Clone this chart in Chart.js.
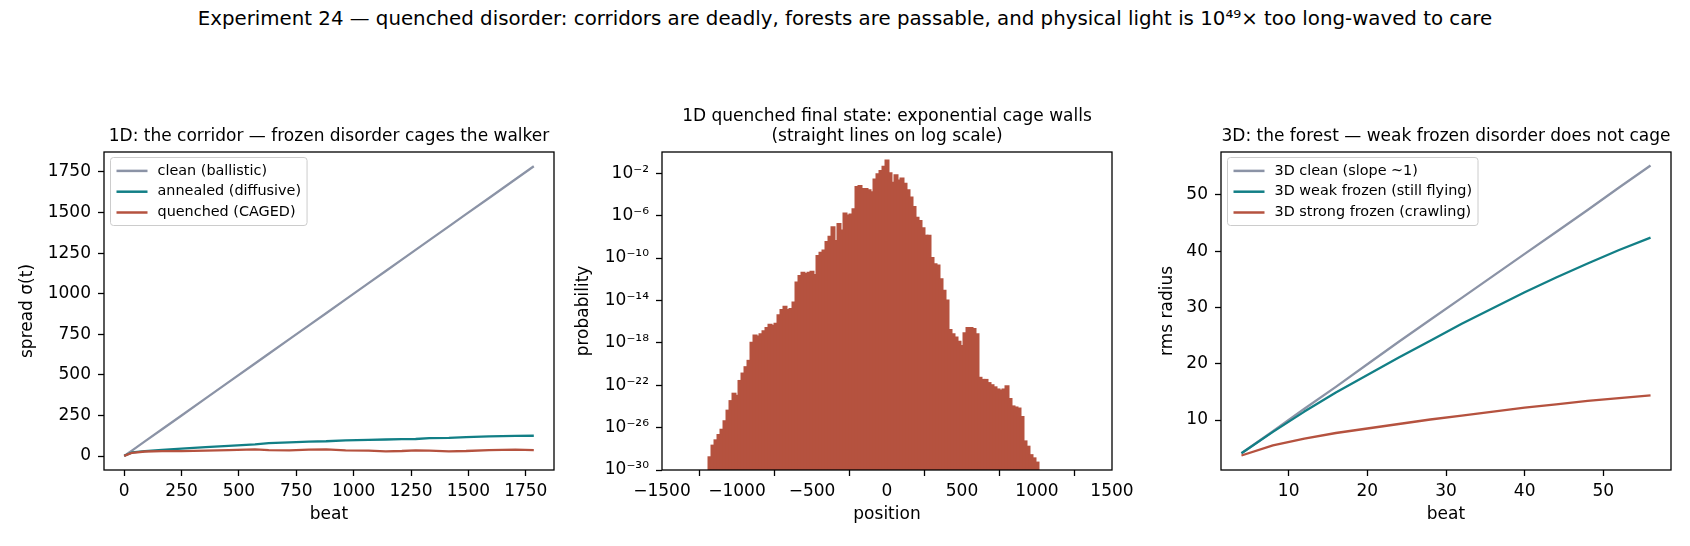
<!DOCTYPE html>
<html>
<head>
<meta charset="utf-8">
<script src="https://cdn.jsdelivr.net/npm/chart.js@4.4.1/dist/chart.umd.min.js"></script>
<style>
  html, body { margin: 0; padding: 0; background: #fff; }
  body { width: 1690px; height: 546px; position: relative; overflow: hidden; font-family: "DejaVu Sans", sans-serif; }
  #suptitle { position: absolute; left: 0; top: 7px; width: 1690px; text-align: center; font-size: 19.8px; line-height: 24px; color: #000; }
  .panel { position: absolute; top: 90px; width: 590px; height: 456px; }
</style>
</head>
<body>
<div id="suptitle">Experiment 24 — quenched disorder: corridors are deadly, forests are passable, and physical light is 10⁴⁹× too long-waved to care</div>
<div class="panel" style="left:4px"><canvas id="corridor" width="590" height="456"></canvas></div>
<div class="panel" style="left:562px"><canvas id="cage" width="590" height="456"></canvas></div>
<div class="panel" style="left:1121px"><canvas id="forest" width="590" height="456"></canvas></div>

<script>
const GRAY = '#8b93a6';
const TEAL = '#127f86';
const RUST = '#b5523f';
const FONT = '"DejaVu Sans", sans-serif';

// --- left panel: spread vs beat in 1D
const corridorBeats = [0, 35, 90, 165, 250, 355, 455, 570, 630, 720, 805, 880, 965, 1065, 1140, 1210, 1270, 1330, 1415, 1490, 1590, 1705, 1785];
const corridorClean = [0, 35, 90, 165, 250, 355, 455, 570, 630, 720, 805, 880, 965, 1065, 1140, 1210, 1270, 1330, 1415, 1490, 1590, 1705, 1785];
const corridorAnnealed = [2, 22, 30, 38, 46, 55, 63, 72, 80, 84, 89, 91, 96, 100, 102, 104, 105, 110, 112, 117, 121, 124, 125];
const corridorQuenched = [1, 20, 28, 30, 30, 33, 37, 41, 37, 35, 39, 41, 35, 33, 29, 31, 35, 33, 29, 31, 37, 39, 37];
const corridorTicksX = [0, 250, 500, 750, 1000, 1250, 1500, 1750];
const corridorTicksY = [0, 250, 500, 750, 1000, 1250, 1500, 1750];

// --- middle panel: final quenched distribution (log10 of probability per bin)
const histPositions = [
  -1180, -1160, -1140, -1120, -1100, -1080, -1060, -1040, -1020, -1000,
  -980, -960, -940, -920, -900, -880, -860, -840, -820, -800,
  -780, -760, -740, -720, -700, -680, -660, -640, -620, -600,
  -580, -560, -540, -520, -500, -480, -460, -440, -420, -400,
  -380, -360, -340, -320, -300, -280, -260, -240, -220, -200,
  -180, -160, -140, -120, -100, -80, -60, -40, -20, 0,
  20, 40, 60, 80, 100, 120, 140, 160, 180, 200,
  220, 240, 260, 280, 300, 320, 340, 360, 380, 400,
  420, 440, 460, 480, 500, 520, 540, 560, 580, 600,
  620, 640, 660, 680, 700, 720, 740, 760, 780, 800,
  820, 840, 860, 880, 900, 920, 940, 960, 980, 1000
];
const histLog10 = [
  -28.8, -27.7, -27.2, -26.7, -26.2, -25.4, -24.4, -23.5, -22.8, -23.0,
  -21.6, -20.9, -20.3, -19.7, -18.0, -17.3, -17.4, -17.2, -16.9, -16.6,
  -16.3, -16.4, -16.2, -15.4, -14.9, -14.6, -14.9, -14.8, -14.2, -12.3,
  -11.7, -11.4, -11.5, -11.4, -11.3, -11.6, -9.8, -9.5, -9.3, -8.5,
  -8.0, -7.1, -8.4, -6.8, -7.4, -5.8, -6.0, -5.9, -5.4, -3.3,
  -3.2, -3.5, -3.5, -3.6, -3.8, -2.6, -2.1, -1.8, -1.4, -0.8,
  -2.0, -2.9, -2.2, -2.7, -2.5, -3.0, -3.6, -4.3, -5.2, -6.2,
  -6.5, -7.2, -7.9, -7.9, -10.0, -10.6, -10.7, -12.0, -13.1, -14.0,
  -16.8, -17.2, -17.5, -17.9, -18.3, -17.1, -16.6, -16.6, -16.7, -17.2,
  -21.3, -21.5, -21.5, -21.8, -22.0, -22.2, -22.4, -22.5, -22.4, -22.1,
  -23.3, -24.0, -24.1, -24.2, -25.0, -27.3, -27.8, -28.6, -28.9, -29.3
];
const histTicksX = [-1500, -1000, -500, 0, 500, 1000, 1500];
const histTicksY = [1e-30, 1e-26, 1e-22, 1e-18, 1e-14, 1e-10, 1e-6, 1e-2];
const histTickLabels = ['10⁻³⁰', '10⁻²⁶', '10⁻²²', '10⁻¹⁸', '10⁻¹⁴', '10⁻¹⁰', '10⁻⁶', '10⁻²'];

// --- right panel: rms radius in 3D
const forestBeats = [4, 8, 12, 16, 20, 24, 28, 32, 36, 40, 44, 48, 52, 56];
const forestClean = [4.1, 8.0, 12.0, 15.9, 19.9, 23.9, 27.8, 31.7, 35.6, 39.5, 43.4, 47.3, 51.3, 55.2];
const forestWeak = [4.1, 7.9, 11.5, 14.9, 18.0, 21.1, 24.1, 27.1, 29.9, 32.7, 35.3, 37.8, 40.2, 42.4];
const forestStrong = [3.7, 5.5, 6.7, 7.7, 8.5, 9.3, 10.1, 10.8, 11.5, 12.2, 12.8, 13.4, 13.9, 14.4];
const forestTicksX = [10, 20, 30, 40, 50];
const forestTicksY = [10, 20, 30, 40, 50];

const pts = (xs, ys) => xs.map((x, i) => ({ x, y: ys[i] }));
const minusSign = (v) => (v < 0 ? '\u2212' + Math.abs(v) : String(v));

// box around the plot, like matplotlib spines
const frame = {
  id: 'frame',
  afterDraw(chart) {
    const { ctx, chartArea: a } = chart;
    ctx.save();
    ctx.strokeStyle = '#000';
    ctx.lineWidth = 1.3;
    ctx.strokeRect(a.left, a.top, a.right - a.left, a.bottom - a.top);
    ctx.restore();
  }
};

// axes title sitting just above the plot
const panelTitle = {
  id: 'panelTitle',
  afterDraw(chart, args, opts) {
    const lines = (opts && opts.lines) || [];
    const { ctx, chartArea: a } = chart;
    ctx.save();
    ctx.font = '17px ' + FONT;
    ctx.fillStyle = '#000';
    ctx.textAlign = 'center';
    ctx.textBaseline = 'alphabetic';
    const cx = (a.left + a.right) / 2;
    lines.forEach((t, i) => {
      ctx.fillText(t, cx, a.top - 11 - (lines.length - 1 - i) * 20);
    });
    ctx.restore();
  }
};

// legend drawn inside the upper-left corner
const boxLegend = {
  id: 'boxLegend',
  afterDatasetsDraw(chart, args, opts) {
    if (!opts || !opts.show) return;
    const { ctx, chartArea: a } = chart;
    const sets = chart.data.datasets;
    ctx.save();
    ctx.font = '14.4px ' + FONT;
    const maxW = Math.max(...sets.map((d) => ctx.measureText(d.label).width));
    const x0 = a.left + 6.5;
    const y0 = a.top + 5.5;
    const w = 47 + maxW + 6;
    const h = 68;
    ctx.fillStyle = 'rgba(255,255,255,0.8)';
    ctx.strokeStyle = '#cccccc';
    ctx.lineWidth = 1;
    ctx.beginPath();
    ctx.roundRect(x0, y0, w, h, 3);
    ctx.fill();
    ctx.stroke();
    sets.forEach((d, i) => {
      const y = y0 + 13.4 + i * 20.8;
      ctx.strokeStyle = d.borderColor;
      ctx.lineWidth = 2.5;
      ctx.beginPath();
      ctx.moveTo(x0 + 6, y);
      ctx.lineTo(x0 + 37, y);
      ctx.stroke();
      ctx.fillStyle = '#000';
      ctx.textAlign = 'left';
      ctx.textBaseline = 'middle';
      ctx.fillText(d.label, x0 + 47, y);
    });
    ctx.restore();
  }
};

function makeAxis(o) {
  return {
    type: o.type || 'linear',
    position: o.position,
    min: o.min,
    max: o.max,
    offset: false,
    grid: { display: true, drawOnChartArea: false, drawTicks: true, tickLength: 6, tickColor: '#000', tickWidth: 1.3 },
    border: { display: false },
    ticks: {
      color: '#000',
      font: { family: FONT, size: 17 },
      padding: o.position === 'left' ? 7 : 5,
      maxRotation: 0,
      autoSkip: false,
      callback: o.fmt
    },
    title: { display: true, text: o.title, color: '#000', font: { family: FONT, size: 17 }, padding: o.titlePad },
    afterBuildTicks: (s) => { s.ticks = o.ticks.map((v) => ({ value: v })); },
    afterFit: (s) => {
      if (s.isHorizontal()) s.height = 76;
      else s.width = 100;
    }
  };
}

function baseOptions(title, legend, xAxis, yAxis) {
  return {
    responsive: false,
    animation: false,
    devicePixelRatio: 1,
    layout: { padding: { left: 0, right: 40, top: 62, bottom: 0 } },
    plugins: {
      legend: { display: false },
      tooltip: { enabled: false },
      panelTitle: { lines: title },
      boxLegend: { show: legend }
    },
    scales: { x: xAxis, y: yAxis }
  };
}

function lineSet(label, color, data, order) {
  return {
    label, data, order,
    borderColor: color,
    backgroundColor: color,
    borderWidth: 2.3,
    pointRadius: 0,
    tension: 0,
    fill: false,
    borderJoinStyle: 'round'
  };
}

new Chart(document.getElementById('corridor'), {
  type: 'line',
  data: {
    datasets: [
      lineSet('clean (ballistic)', GRAY, pts(corridorBeats, corridorClean), 3),
      lineSet('annealed (diffusive)', TEAL, pts(corridorBeats, corridorAnnealed), 2),
      lineSet('quenched (CAGED)', RUST, pts(corridorBeats, corridorQuenched), 1)
    ]
  },
  options: baseOptions(
    ['1D: the corridor — frozen disorder cages the walker'], true,
    makeAxis({ position: 'bottom', min: -88, max: 1873, ticks: corridorTicksX, fmt: (v) => String(v), title: 'beat', titlePad: { bottom: 21 } }),
    makeAxis({ position: 'left', min: -86, max: 1873, ticks: corridorTicksY, fmt: (v) => String(v), title: 'spread σ(t)', titlePad: { top: 13 } })
  ),
  plugins: [frame, panelTitle, boxLegend]
});

new Chart(document.getElementById('cage'), {
  type: 'bar',
  data: {
    datasets: [{
      label: 'quenched final state',
      data: histPositions.map((x, i) => ({ x, y: Math.pow(10, histLog10[i]) })),
      backgroundColor: RUST,
      borderWidth: 0,
      inflateAmount: 1,
      barPercentage: 1,
      categoryPercentage: 1
    }]
  },
  options: baseOptions(
    ['1D quenched final state: exponential cage walls', '(straight lines on log scale)'], false,
    makeAxis({ position: 'bottom', min: -1500, max: 1500, ticks: histTicksX, fmt: minusSign, title: 'position', titlePad: { bottom: 21 } }),
    makeAxis({
      type: 'logarithmic', position: 'left', min: 1e-30, max: 1, ticks: histTicksY,
      fmt: (v) => histTickLabels[histTicksY.findIndex((t) => Math.abs(Math.log10(t) - Math.log10(v)) < 0.01)] || '',
      title: 'probability', titlePad: { top: 11 }
    })
  ),
  plugins: [frame, panelTitle]
});

new Chart(document.getElementById('forest'), {
  type: 'line',
  data: {
    datasets: [
      lineSet('3D clean (slope ~1)', GRAY, pts(forestBeats, forestClean), 3),
      lineSet('3D weak frozen (still flying)', TEAL, pts(forestBeats, forestWeak), 2),
      lineSet('3D strong frozen (crawling)', RUST, pts(forestBeats, forestStrong), 1)
    ]
  },
  options: baseOptions(
    ['3D: the forest — weak frozen disorder does not cage'], true,
    makeAxis({ position: 'bottom', min: 1.4, max: 58.6, ticks: forestTicksX, fmt: (v) => String(v), title: 'beat', titlePad: { bottom: 21 } }),
    makeAxis({ position: 'left', min: 1.13, max: 57.6, ticks: forestTicksY, fmt: (v) => String(v), title: 'rms radius', titlePad: { top: 36 } })
  ),
  plugins: [frame, panelTitle, boxLegend]
});
</script>
</body>
</html>
